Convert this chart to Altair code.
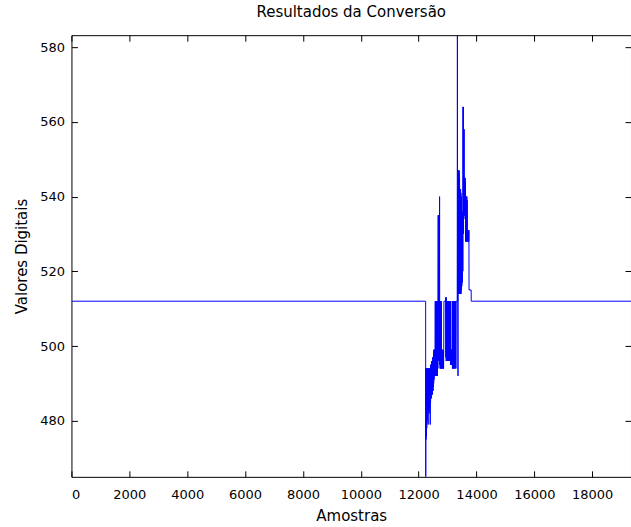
import altair as alt
import pandas as pd

# Sample index (Amostras) of each vertex of the trace
amostras = [
    0, 12242, 12246, 12250, 12256, 12262, 12268, 12274, 12280, 12286,
    12292, 12298, 12304, 12310, 12316, 12322, 12328, 12334, 12340, 12346,
    12352, 12358, 12364, 12370, 12376, 12382, 12388, 12394, 12400, 12406,
    12412, 12418, 12424, 12430, 12436, 12442, 12448, 12454, 12460, 12466,
    12472, 12478, 12484, 12490, 12496, 12502, 12508, 12514, 12520, 12526,
    12532, 12538, 12544, 12550, 12556, 12562, 12568, 12574, 12580, 12586,
    12592, 12598, 12604, 12610, 12616, 12622, 12628, 12634, 12640, 12646,
    12652, 12658, 12664, 12670, 12676, 12682, 12688, 12694, 12700, 12706,
    12712, 12718, 12724, 12730, 12736, 12742, 12748, 12754, 12760, 12766,
    12772, 12778, 12784, 12790, 12796, 12802, 12808, 12814, 12820, 12826,
    12832, 12838, 12844, 12850, 12856, 12862, 12868, 12874, 12930, 12934,
    12940, 12946, 12952, 12958, 12964, 12970, 12976, 12982, 12988, 12994,
    13000, 13006, 13012, 13018, 13024, 13030, 13036, 13042, 13048, 13054,
    13060, 13066, 13072, 13078, 13084, 13090, 13096, 13102, 13108, 13114,
    13120, 13126, 13132, 13138, 13144, 13150, 13156, 13162, 13168, 13174,
    13180, 13186, 13192, 13198, 13204, 13210, 13216, 13222, 13228, 13234,
    13240, 13246, 13252, 13258, 13264, 13270, 13276, 13282, 13288, 13294,
    13334, 13340, 13346, 13352, 13360, 13366, 13372, 13378, 13384, 13390,
    13396, 13402, 13408, 13414, 13420, 13426, 13432, 13438, 13444, 13450,
    13456, 13462, 13468, 13474, 13480, 13486, 13492, 13498, 13504, 13510,
    13516, 13522, 13528, 13534, 13540, 13546, 13552, 13558, 13564, 13570,
    13576, 13582, 13588, 13594, 13600, 13606, 13612, 13618, 13624, 13630,
    13636, 13642, 13648, 13654, 13660, 13666, 13672, 13678, 13684, 13690,
    13696, 13702, 13708, 13714, 13720, 13726, 13732, 13738, 13742, 13815,
    13818, 19340,
]

# Converted digital value (Valores Digitais) at each vertex
valores = [
    512, 512, 465, 494, 475, 494, 476, 494, 478, 493,
    480, 494, 483, 494, 483, 493, 479, 494, 483, 494,
    483, 494, 482, 493, 483, 494, 484, 494, 479, 494,
    485, 495, 486, 495, 486, 495, 487, 496, 487, 496,
    487, 496, 488, 497, 488, 497, 489, 498, 490, 499,
    491, 499, 492, 499, 492, 499, 492, 512, 492, 512,
    493, 512, 492, 512, 494, 512, 492, 512, 493, 512,
    492, 512, 494, 512, 535, 496, 535, 512, 497, 512,
    496, 512, 540, 495, 512, 494, 512, 494, 512, 494,
    512, 495, 512, 494, 499, 494, 499, 494, 499, 495,
    498, 494, 499, 494, 498, 494, 499, 512, 512, 513,
    497, 512, 496, 513, 497, 512, 496, 512, 497, 512,
    496, 512, 497, 512, 496, 512, 497, 512, 496, 512,
    497, 512, 496, 512, 497, 512, 496, 512, 495, 499,
    495, 499, 495, 499, 495, 499, 495, 512, 494, 512,
    494, 512, 495, 512, 494, 512, 494, 512, 496, 512,
    494, 512, 495, 512, 494, 512, 496, 512, 494, 512,
    512, 583, 512, 520, 492, 547, 514, 547, 514, 546,
    514, 547, 514, 545, 514, 542, 514, 541, 514, 542,
    515, 541, 514, 540, 515, 536, 516, 535, 517, 536,
    518, 535, 520, 564, 530, 564, 530, 558, 534, 558,
    535, 545, 535, 545, 535, 545, 535, 544, 528, 540,
    528, 540, 528, 539, 528, 540, 528, 539, 528, 531,
    528, 531, 528, 531, 528, 531, 528, 531, 515, 515,
    512, 512,
]

x_ticks = [0, 2000, 4000, 6000, 8000, 10000, 12000, 14000, 16000, 18000]
y_ticks = [480, 500, 520, 540, 560, 580]
x_domain = [0, 19340]
y_domain = [465, 583.2]

df = pd.DataFrame({"Amostras": amostras, "Valores": valores})

W, H = 560, 442
FONT = "DejaVu Sans"

base = alt.Chart(df)

# Trace with the labelled axes (left and bottom)
trace = base.mark_line(color="#0000FF", strokeWidth=1, clip=True).encode(
    x=alt.X(
        "Amostras:Q",
        scale=alt.Scale(domain=x_domain, nice=False, zero=False),
        axis=alt.Axis(
            orient="bottom", values=x_ticks, format="d", title="Amostras",
            ticks=False, tickSize=0, domain=False, grid=False,
            labelPadding=12, labelFontSize=13, labelFont=FONT, labelColor="black",
            titleFontSize=15, titleFont=FONT, titleFontWeight="normal",
            titleColor="black", titleY=39, titleBaseline="middle",
        ),
    ),
    y=alt.Y(
        "Valores:Q",
        scale=alt.Scale(domain=y_domain, nice=False, zero=False),
        axis=alt.Axis(
            orient="left", values=y_ticks, format="d", title="Valores Digitais",
            ticks=False, tickSize=0, domain=False, grid=False,
            labelPadding=7, labelFontSize=13, labelFont=FONT, labelColor="black",
            titleFontSize=15, titleFont=FONT, titleFontWeight="normal",
            titleColor="black", titleX=-50, titleBaseline="middle",
        ),
    ),
)


def tick_axis(orient, values, offset):
    return alt.Axis(
        orient=orient, values=values, offset=offset, labels=False, title=None,
        domain=False, grid=False, ticks=True, tickSize=6, tickColor="black",
        tickWidth=1,
    )


# Invisible copies that only carry the inward-pointing tick marks
ticks_in_bottom_left = base.mark_line(opacity=0).encode(
    x=alt.X("Amostras:Q", scale=alt.Scale(domain=x_domain, nice=False, zero=False),
            axis=tick_axis("top", x_ticks, -H)),
    y=alt.Y("Valores:Q", scale=alt.Scale(domain=y_domain, nice=False, zero=False),
            axis=tick_axis("right", y_ticks, -W)),
)
ticks_in_top_right = base.mark_line(opacity=0).encode(
    x=alt.X("Amostras:Q", scale=alt.Scale(domain=x_domain, nice=False, zero=False),
            axis=tick_axis("bottom", x_ticks, -H)),
    y=alt.Y("Valores:Q", scale=alt.Scale(domain=y_domain, nice=False, zero=False),
            axis=tick_axis("left", y_ticks, -W)),
)

chart = (
    alt.layer(trace, ticks_in_bottom_left, ticks_in_top_right)
    .resolve_scale(x="independent", y="independent")
    .properties(
        width=W,
        height=H,
        title=alt.Title(
            "Resultados da Conversão", fontSize=15, font=FONT,
            fontWeight="normal", color="black", anchor="middle",
            baseline="alphabetic", offset=14, dy=11,
        ),
        autosize=alt.AutoSizeParams(type="none"),
        padding={"left": 71.5, "top": 35, "right": 0, "bottom": 50},
        background="white",
    )
    .configure_view(stroke="black", strokeWidth=1)
)

chart.save("out.html", embed_options={"renderer": "svg", "actions": False})
